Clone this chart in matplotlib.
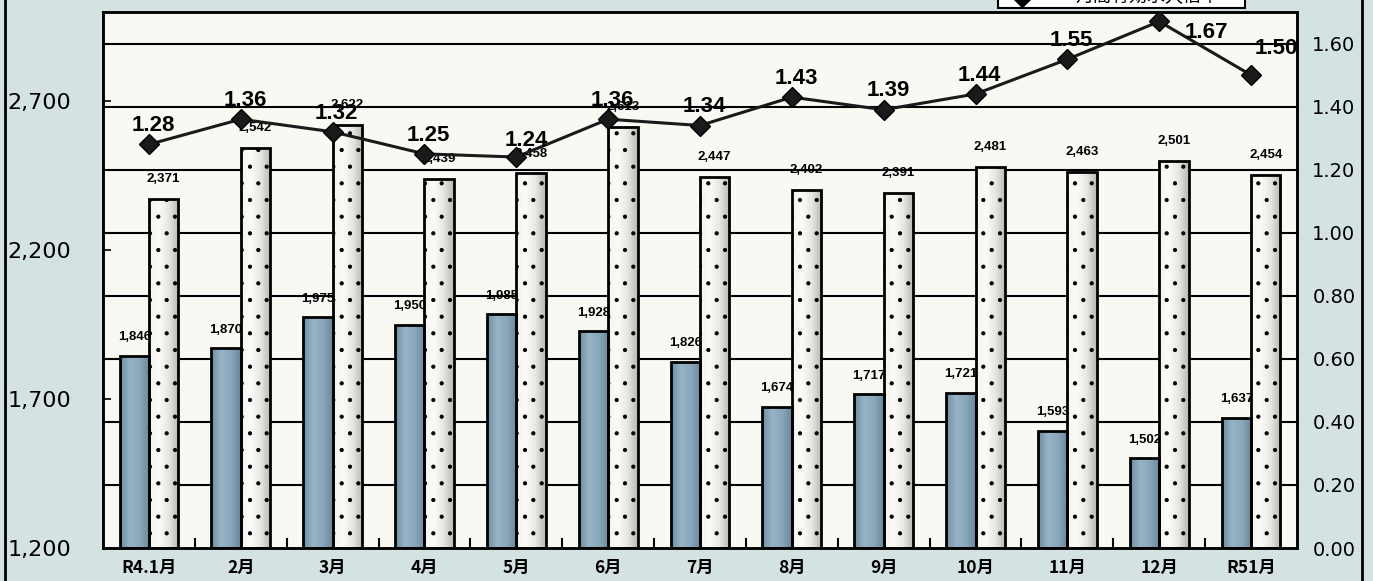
import numpy as np
import matplotlib
matplotlib.use("Agg")
import matplotlib.pyplot as plt
from matplotlib.colors import LinearSegmentedColormap
from matplotlib.lines import Line2D
from matplotlib.patches import Rectangle
from matplotlib.transforms import blended_transform_factory

# values
months = ["R4.1月", "2月", "3月", "4月", "5月", "6月", "7月",
          "8月", "9月", "10月", "11月", "12月", "R51月"]
seekers = [1846, 1870, 1975, 1950, 1985, 1928, 1826,
           1674, 1717, 1721, 1593, 1502, 1637]
openings = [2371, 2542, 2622, 2439, 2458, 2613, 2447,
            2402, 2391, 2481, 2463, 2501, 2454]
ratio = [1.28, 1.36, 1.32, 1.25, 1.24, 1.36, 1.34,
         1.43, 1.39, 1.44, 1.55, 1.67, 1.50]
left_ticks = [1200, 1700, 2200, 2700]
right_ticks = [0.0, 0.2, 0.4, 0.6, 0.8, 1.0, 1.2, 1.4, 1.6]
legend_label = "月間有効求人倍率"

FIG_BG = "#d4e3e2"
PLOT_BG = "#f9f9f4"
blue_shade = LinearSegmentedColormap.from_list(
    "blue_shade", ["#6d8ca3", "#98b3c6", "#8aa7bb", "#6a889e"])
dot_shade = LinearSegmentedColormap.from_list(
    "dot_shade", ["#f4f4ef", "#fbfbf8", "#e6e6e1", "#b9b9b4"])

plt.rcParams["font.family"] = ["Liberation Sans", "Noto Sans CJK JP", "DejaVu Sans"]
plt.rcParams["hatch.linewidth"] = 0.6


def shaded_bars(ax, xs, heights, width, cmap, hatch=None):
    """Bars with a left-to-right shading, drawn as fill + clipped gradient + outline."""
    base = ax.bar(xs, np.array(heights) - 1200, width, bottom=1200,
                  color=cmap(0.5), linewidth=0, zorder=2)
    grad = np.linspace(0, 1, 64).reshape(1, -1)
    for patch in base:
        x0, y0 = patch.get_x(), patch.get_y()
        im = ax.imshow(grad, cmap=cmap, aspect="auto", zorder=2.1,
                       extent=(x0, x0 + patch.get_width(), y0, y0 + patch.get_height()))
        im.set_clip_path(patch)
    ax.bar(xs, np.array(heights) - 1200, width, bottom=1200, facecolor="none",
           edgecolor="black", linewidth=2, hatch=hatch, zorder=2.2)


fig = plt.figure(figsize=(13.73, 5.81), dpi=100, facecolor=FIG_BG)
ax = fig.add_axes([103 / 1373, 33 / 581, 1194 / 1373, 536 / 581])
ax2 = ax.twinx()
ax.set_facecolor(PLOT_BG)

x = np.arange(len(months))
width = 0.32

# horizontal rules follow the right-hand scale but sit behind the bars
grid_tf = blended_transform_factory(ax.transAxes, ax2.transData)
for r in right_ticks[1:]:
    ax.plot([0, 1], [r, r], color="black", lw=1.5, transform=grid_tf, zorder=1)

shaded_bars(ax, x - 0.16, seekers, width, blue_shade)
shaded_bars(ax, x + 0.16, openings, width, dot_shade, hatch=".")

for xi, v in zip(x, seekers):
    ax.annotate(f"{v:,}", (xi - 0.16, v), xytext=(0, 9), textcoords="offset points",
                ha="center", va="bottom", fontsize=9.5, fontweight="bold", zorder=3)
for xi, v in zip(x, openings):
    ax.annotate(f"{v:,}", (xi + 0.16, v), xytext=(0, 10), textcoords="offset points",
                ha="center", va="bottom", fontsize=9.5, fontweight="bold", zorder=3)

ax2.plot(x, ratio, color="#1a1a1a", lw=2.2, marker="D", markersize=10,
         markerfacecolor="#1a1a1a", markeredgecolor="black", zorder=4)

# a few ratio labels were nudged aside in the original
label_offsets = {4: (7, 12), 11: (34, -8), 12: (18, 19)}
for i, (xi, r) in enumerate(zip(x, ratio)):
    dx, dy = label_offsets.get(i, (3, 13.5))
    ax2.annotate(f"{r:.2f}", (xi, r), xytext=(dx, dy), textcoords="offset points",
                 ha="center", va="center", fontsize=16, fontweight="bold", zorder=5)

ax.set_ylim(1200, 3000)
ax2.set_ylim(0, 1.7)
ax.set_xlim(-0.5, len(months) - 0.5)

# axes styling
ax.set_yticks(left_ticks)
ax.set_yticklabels([f"{t:,}" for t in left_ticks], fontsize=16,
                   family=["DejaVu Sans"])
ax.tick_params(axis="y", direction="in", length=6, width=1.2, pad=23)
ax2.set_yticks(right_ticks)
ax2.set_yticklabels([f"{t:.2f}" for t in right_ticks], fontsize=14,
                    family=["DejaVu Sans"])
ax2.tick_params(axis="y", length=0, pad=11)

ax.set_xticks(x[:-1] + 0.5)
ax.set_xticklabels([])
ax.set_xticks(x, minor=True)
ax.set_xticklabels(months, minor=True, fontsize=12.5, fontweight="bold",
                   family=["Noto Sans CJK JP"])
ax.tick_params(axis="x", which="major", direction="in", length=7, width=1.5)
ax.tick_params(axis="x", which="minor", length=0, pad=8)

for a in (ax, ax2):
    for s in a.spines.values():
        s.set_linewidth(1.8)
        s.set_color("black")

# outer frame lines and the legend box cut off at the top edge
fig.add_artist(Line2D([5 / 1373, 5 / 1373], [0, 1], color="black", lw=2))
fig.add_artist(Line2D([1362 / 1373, 1362 / 1373], [0, 1], color="black", lw=2))
fig.add_artist(Rectangle((998 / 1373, 1 - 8 / 581), 247 / 1373, 40 / 581,
                         facecolor="white", edgecolor="black", lw=1.5))
fig.add_artist(Line2D([1022 / 1373, 1068 / 1373], [1 + 2 / 581] * 2, color="black",
                      lw=2, marker="D", markevery=[0], markersize=9))
fig.text(1075 / 1373, 1 + 3 / 581, legend_label, fontsize=13,
         family=["Noto Sans CJK JP"], va="center", ha="left")

fig.savefig("out.png", dpi=100, facecolor=FIG_BG)
